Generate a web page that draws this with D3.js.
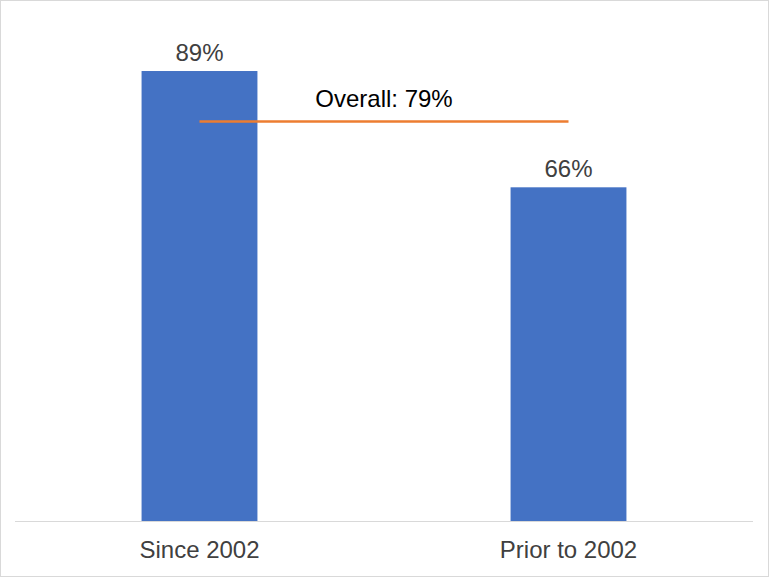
<!DOCTYPE html>
<html><head><meta charset="utf-8">
<script src="https://cdn.jsdelivr.net/npm/d3@7"></script>
<style>body{margin:0;background:#fff}svg{display:block}</style>
</head><body>
<script>
const categories = ["Since 2002", "Prior to 2002"];
const values = [89, 66];
const overallValue = 79;
const overallLabel = "Overall: 79%";

const W = 769, H = 577;
const svg = d3.select("body").append("svg").attr("width", W).attr("height", H);
svg.append("rect").attr("x",0.5).attr("y",0.5).attr("width",W-1).attr("height",H-1)
  .attr("fill","#fff").attr("stroke","#d9d9d9");

const x = d3.scaleBand().domain(categories).range([15, 753]).paddingInner(0.686).paddingOuter(0.343);
const y = d3.scaleLinear().domain([0, 100]).range([521, 15.4]);
const font = "'Liberation Sans', Arial, sans-serif";

svg.selectAll("rect.bar").data(values).join("rect").attr("class","bar")
  .attr("x",(d,i)=>x(categories[i])).attr("width",x.bandwidth())
  .attr("y",d=>y(d)).attr("height",d=>y(0)-y(d)).attr("fill","#4472c4");

svg.selectAll("text.val").data(values).join("text").attr("class","val")
  .attr("x",(d,i)=>x(categories[i])+x.bandwidth()/2).attr("y",d=>y(d)-10)
  .attr("text-anchor","middle").attr("font-family",font).attr("font-size",24).attr("fill","#404040")
  .text(d=>d+"%");

const ax = svg.append("g").attr("transform",`translate(0,${y(0)})`)
  .call(d3.axisBottom(x).tickSize(0).tickPadding(20));
ax.select(".domain").attr("stroke","#d9d9d9").attr("d","M15,0.5H753");
ax.selectAll("text").attr("font-family",font).attr("font-size",24).attr("fill","#404040");

const c0 = x(categories[0])+x.bandwidth()/2, c1 = x(categories[1])+x.bandwidth()/2;
svg.append("line").attr("x1",c0).attr("x2",c1).attr("y1",y(overallValue)).attr("y2",y(overallValue))
  .attr("stroke","#ed7d31").attr("stroke-width",2.5);
svg.append("text").attr("x",(c0+c1)/2).attr("y",y(overallValue)-15).attr("text-anchor","middle")
  .attr("font-family",font).attr("font-size",24).attr("fill","#000").text(overallLabel);
</script>
</body></html>
